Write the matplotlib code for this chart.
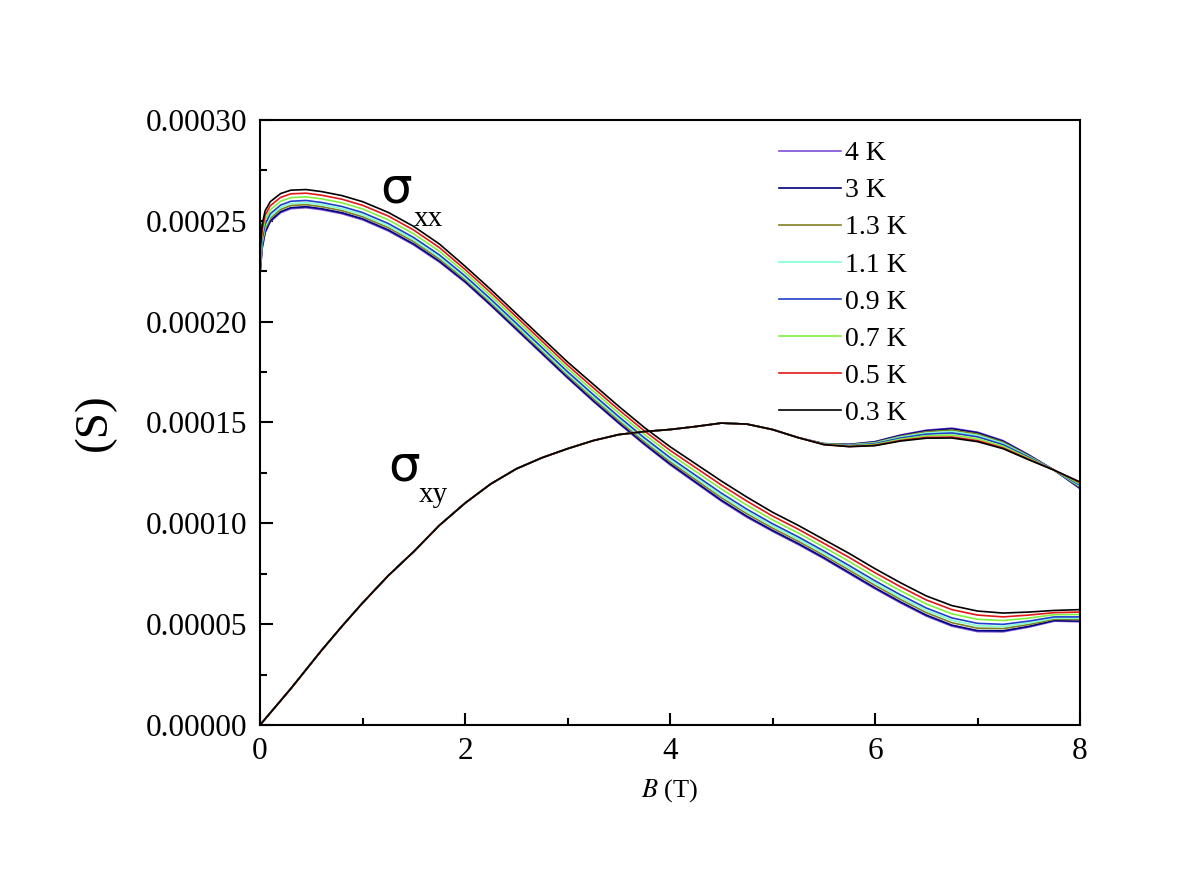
import matplotlib
matplotlib.use('Agg')
import matplotlib.pyplot as plt
from matplotlib.ticker import MultipleLocator, FormatStrFormatter

# field values (T)
B = [0, 0.02, 0.05, 0.1, 0.2, 0.3, 0.45, 0.6, 0.8, 1.0, 1.25, 1.5, 1.75,
     2.0, 2.25, 2.5, 2.75, 3.0, 3.25, 3.5, 3.75, 4.0, 4.25, 4.5, 4.75,
     5.0, 5.25, 5.5, 5.75, 6.0, 6.25, 6.5, 6.75, 7.0, 7.25, 7.5, 7.75, 8.0]

temps = ['4 K', '3 K', '1.3 K', '1.1 K', '0.9 K', '0.7 K', '0.5 K', '0.3 K']
colors = ['#7b4fd6', '#000080', '#808020', '#7fffd4', '#2040c8', '#80f040', '#e01818', '#000000']

# sigma_xx, in units of 1e-5 S
sxx_4K = [22.3, 23.6, 24.4, 24.95, 25.4, 25.6, 25.65, 25.55, 25.35, 25.05, 24.5, 23.8, 22.95,
          21.95, 20.8, 19.6, 18.4, 17.2, 16.05, 14.95, 13.9, 12.9, 12.0, 11.1, 10.3,
          9.6, 8.95, 8.25, 7.5, 6.75, 6.05, 5.4, 4.9, 4.63, 4.62, 4.85, 5.15, 5.12]
sxx_3K = [22.37, 23.66, 24.46, 25.0, 25.45, 25.65, 25.7, 25.6, 25.4, 25.1, 24.55, 23.85, 23.0,
          21.99, 20.84, 19.64, 18.44, 17.24, 16.09, 14.99, 13.94, 12.95, 12.05, 11.15, 10.35,
          9.65, 9.0, 8.3, 7.55, 6.8, 6.1, 5.45, 4.95, 4.68, 4.67, 4.89, 5.18, 5.15]
sxx_13K = [22.52, 23.8, 24.59, 25.12, 25.56, 25.76, 25.8, 25.7, 25.5, 25.2, 24.66, 23.96, 23.1,
           22.09, 20.94, 19.74, 18.54, 17.34, 16.19, 15.09, 14.04, 13.05, 12.16, 11.27, 10.47,
           9.76, 9.11, 8.41, 7.67, 6.92, 6.22, 5.57, 5.07, 4.8, 4.78, 4.98, 5.24, 5.22]
sxx_11K = [22.66, 23.94, 24.71, 25.23, 25.67, 25.86, 25.9, 25.8, 25.6, 25.3, 24.76, 24.06, 23.2,
           22.17, 21.02, 19.82, 18.62, 17.42, 16.29, 15.19, 14.14, 13.15, 12.27, 11.38, 10.58,
           9.87, 9.22, 8.52, 7.78, 7.03, 6.33, 5.68, 5.19, 4.92, 4.88, 5.06, 5.3, 5.29]
sxx_09K = [22.82, 24.08, 24.84, 25.35, 25.78, 25.97, 26.01, 25.91, 25.71, 25.41, 24.87, 24.17, 23.31,
           22.27, 21.12, 19.92, 18.72, 17.52, 16.39, 15.29, 14.24, 13.26, 12.38, 11.5, 10.7,
           9.98, 9.33, 8.63, 7.9, 7.15, 6.45, 5.8, 5.31, 5.04, 4.99, 5.15, 5.36, 5.36]
sxx_07K = [23.08, 24.32, 25.06, 25.55, 25.97, 26.15, 26.19, 26.09, 25.89, 25.59, 25.05, 24.35, 23.49,
           22.43, 21.28, 20.08, 18.88, 17.68, 16.56, 15.46, 14.41, 13.44, 12.57, 11.7, 10.9,
           10.17, 9.52, 8.82, 8.1, 7.35, 6.65, 6.0, 5.51, 5.24, 5.18, 5.3, 5.47, 5.48]
sxx_05K = [23.34, 24.56, 25.28, 25.75, 26.16, 26.34, 26.37, 26.27, 26.07, 25.77, 25.24, 24.54, 23.67,
           22.59, 21.44, 20.24, 19.04, 17.84, 16.73, 15.63, 14.58, 13.62, 12.76, 11.9, 11.1,
           10.36, 9.71, 9.01, 8.3, 7.55, 6.85, 6.2, 5.72, 5.45, 5.36, 5.45, 5.57, 5.6]
sxx_03K = [23.6, 24.8, 25.5, 25.95, 26.35, 26.52, 26.55, 26.45, 26.25, 25.95, 25.42, 24.72, 23.85,
           22.75, 21.6, 20.4, 19.2, 18.0, 16.9, 15.8, 14.75, 13.8, 12.95, 12.1, 11.3,
           10.55, 9.9, 9.2, 8.5, 7.75, 7.05, 6.4, 5.92, 5.65, 5.55, 5.6, 5.68, 5.72]

# sigma_xy, in units of 1e-5 S; identical for all temperatures up to 5.25 T
sxy_low = [0, 0.12, 0.3, 0.6, 1.2, 1.8, 2.75, 3.7, 4.9, 6.05, 7.4, 8.6, 9.9,
           11.0, 11.95, 12.7, 13.25, 13.7, 14.1, 14.4, 14.55, 14.65, 14.8, 14.97, 14.92,
           14.65, 14.25]
# B = 5.5 ... 8.0
sxy_4K_hi = [13.95, 13.92, 14.05, 14.38, 14.62, 14.72, 14.52, 14.1, 13.4, 12.63, 11.72]
sxy_3K_hi = [13.95, 13.91, 14.04, 14.36, 14.59, 14.69, 14.49, 14.07, 13.38, 12.63, 11.74]
sxy_13K_hi = [13.94, 13.9, 14.01, 14.32, 14.54, 14.62, 14.43, 14.02, 13.35, 12.63, 11.79]
sxy_11K_hi = [13.93, 13.88, 13.98, 14.28, 14.48, 14.55, 14.36, 13.96, 13.31, 12.63, 11.84]
sxy_09K_hi = [13.93, 13.86, 13.95, 14.23, 14.42, 14.48, 14.29, 13.9, 13.28, 12.63, 11.89]
sxy_07K_hi = [13.92, 13.84, 13.91, 14.17, 14.34, 14.38, 14.19, 13.82, 13.23, 12.63, 11.95]
sxy_05K_hi = [13.91, 13.81, 13.87, 14.11, 14.26, 14.28, 14.1, 13.74, 13.18, 12.63, 12.02]
sxy_03K_hi = [13.9, 13.8, 13.85, 14.08, 14.22, 14.23, 14.05, 13.7, 13.15, 12.63, 12.05]

sxx_all = [sxx_4K, sxx_3K, sxx_13K, sxx_11K, sxx_09K, sxx_07K, sxx_05K, sxx_03K]
sxy_all = [sxy_4K_hi, sxy_3K_hi, sxy_13K_hi, sxy_11K_hi, sxy_09K_hi, sxy_07K_hi, sxy_05K_hi, sxy_03K_hi]
unit = 1e-5

plt.rcParams['font.family'] = ['Liberation Serif', 'DejaVu Serif']
plt.rcParams['mathtext.fontset'] = 'stix'

fig = plt.figure(figsize=(12, 8.72), dpi=100)
ax = fig.add_axes([0.2167, 0.1686, 0.6833, 0.6938])

for T, c, sxx, hi in zip(temps, colors, sxx_all, sxy_all):
    ax.plot(B, [v * unit for v in sxx], color=c, lw=1.2, label=T)
    ax.plot(B, [v * unit for v in sxy_low + hi], color=c, lw=1.2)

ax.set_xlim(0, 8)
ax.set_ylim(0, 0.0003)
ax.xaxis.set_major_locator(MultipleLocator(2))
ax.xaxis.set_minor_locator(MultipleLocator(1))
ax.yaxis.set_major_locator(MultipleLocator(0.00005))
ax.yaxis.set_minor_locator(MultipleLocator(0.000025))
ax.yaxis.set_major_formatter(FormatStrFormatter('%.5f'))
ax.tick_params(which='both', direction='in', width=1.5, labelsize=22.5)
ax.tick_params(which='major', length=9, pad=9)
ax.tick_params(which='minor', length=5)
for sp in ax.spines.values():
    sp.set_linewidth(1.5)

ax.set_xlabel(r'$B$ (T)', fontsize=19, labelpad=8)
ax.set_ylabel('(S)', fontsize=34, family='Liberation Serif', labelpad=22)

# curve labels
ax.text(1.17, 0.000266, 'σ', fontsize=36, family='DejaVu Sans', ha='left', va='center')
ax.text(1.5, 0.000251, 'xx', fontsize=21, ha='left', va='center')
ax.text(1.25, 0.000128, 'σ', fontsize=36, family='DejaVu Sans', ha='left', va='center')
ax.text(1.55, 0.000114, 'xy', fontsize=21, ha='left', va='center')

leg = ax.legend(loc='upper left', bbox_to_anchor=(0.607, 1.0), frameon=False,
                fontsize=20, handlelength=2.25, labelspacing=0.42, handletextpad=0.15,
                borderaxespad=0.35)

fig.savefig('out.png', dpi=100)
